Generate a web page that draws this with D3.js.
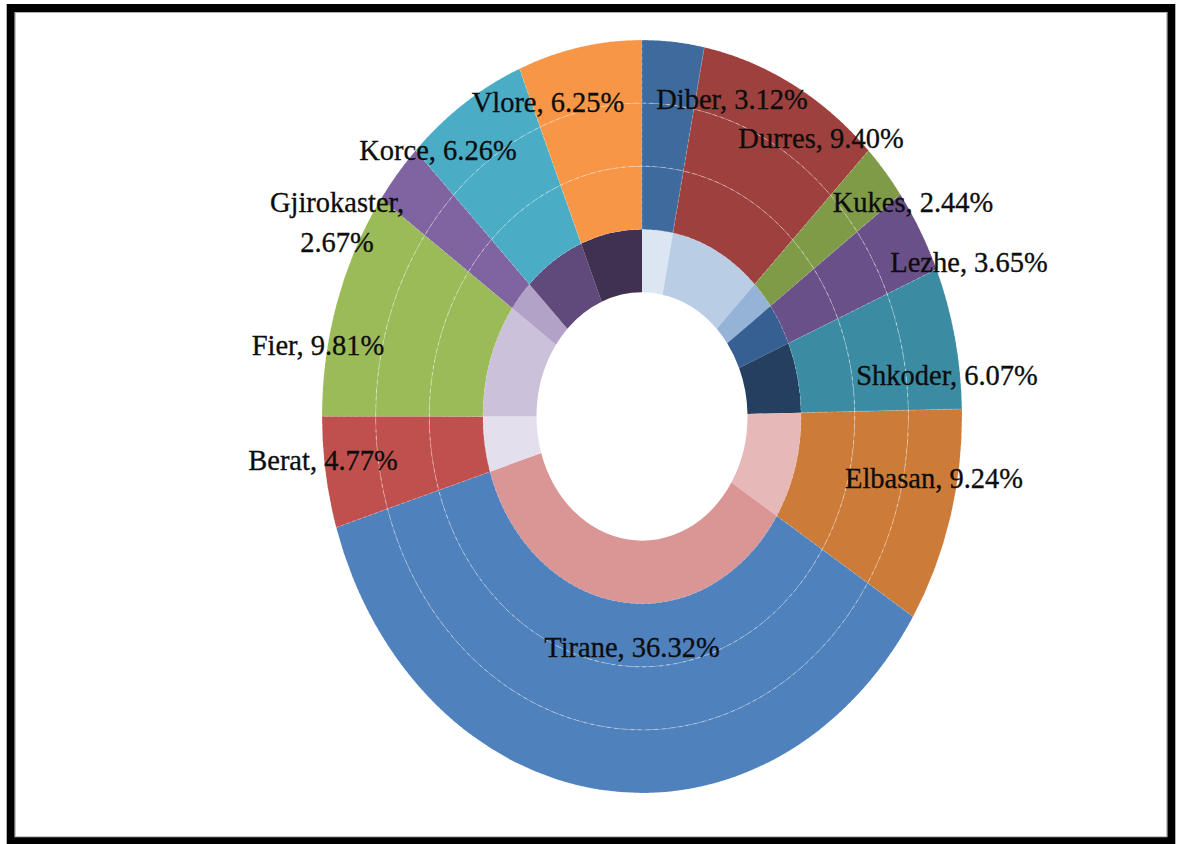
<!DOCTYPE html>
<html>
<head>
<meta charset="utf-8">
<script src="https://cdn.jsdelivr.net/npm/d3@7"></script>
<style>
  html, body { margin: 0; padding: 0; background: #fff; }
  svg { display: block; }
  .lbl { font-family: "Liberation Serif", "Times New Roman", serif; font-size: 28.5px;
         fill: #0d0d0d; stroke: #0d0d0d; stroke-width: 0.3px; }
</style>
</head>
<body>
<svg id="chart" width="1177" height="844"></svg>
<script>
// Share of each region, clockwise from 12 o'clock
const regions = ["Diber", "Durres", "Kukes", "Lezhe", "Shkoder", "Elbasan",
                 "Tirane", "Berat", "Fier", "Gjirokaster", "Korce", "Vlore"];
const shares  = [3.12, 9.40, 2.44, 3.65, 6.07, 9.24, 36.32, 4.77, 9.81, 2.67, 6.26, 6.25];

// Fill of the three outer rings (one colour per region)
const outerColors = ["#3f6a9e", "#9e413e", "#7f9b48", "#6a5088", "#3b8ca3", "#cc7b38",
                     "#4f81bd", "#c0504d", "#9bbb59", "#8064a2", "#4bacc6", "#f79646"];
// Fill of the innermost ring (tints / shades grouped by hue)
const innerColors = ["#dce6f2", "#b9cde5", "#95b3d7", "#376092", "#243f60", "#e6b9b8",
                     "#d99694", "#e4dfec", "#ccc1da", "#b3a2c7", "#604a7b", "#403151"];

// Label text lines and where each one sits (centre x, first baseline y)
const labelLines = regions.map((r, i) =>
  r === "Gjirokaster" ? [r + ",", d3.format(".2f")(shares[i]) + "%"]
                      : [r + ", " + d3.format(".2f")(shares[i]) + "%"]);
const labelAt = [[732, 109], [821, 148], [913, 212], [969, 272], [947, 385], [934, 488],
                 [632, 657], [323, 470], [318, 355], [337, 212], [438, 160], [548, 112]];

const cx = 642, cy = 416.5;
const stretchY = 1.1766;          // rings are drawn as ellipses
const holeR = 105.5, ringW = 53.62;

const svg = d3.select("#chart");

// page frame
svg.append("rect")
  .attr("x", 10.7).attr("y", 8).attr("width", 1160.6).attr("height", 833)
  .attr("fill", "none").attr("stroke", "#000").attr("stroke-width", 8);
svg.append("rect")
  .attr("x", 15.2).attr("y", 12.5).attr("width", 1151.6).attr("height", 824.3)
  .attr("fill", "none").attr("stroke", "#b0b0b0").attr("stroke-width", 1);

const g = svg.append("g")
  .attr("transform", `translate(${cx},${cy}) scale(1,${stretchY})`);

const pie = d3.pie().sort(null).value(d => d)
  .startAngle(0).endAngle(2 * Math.PI);
const arcsData = pie(shares);

// four concentric series: index 0 is innermost
[0, 1, 2, 3].forEach(k => {
  const arc = d3.arc()
    .innerRadius(holeR + k * ringW)
    .outerRadius(holeR + (k + 1) * ringW);
  const colors = k === 0 ? innerColors : outerColors;
  g.append("g").selectAll("path")
    .data(arcsData)
    .join("path")
      .attr("d", arc)
      .attr("fill", (d, i) => colors[i])
      .attr("stroke", k === 0 ? "none" : "#ffffff")
      .attr("stroke-opacity", 0.25)
      .attr("stroke-width", 0.8)
      .attr("stroke-dasharray", "3,3")
      .attr("vector-effect", "non-scaling-stroke");
});

// faint dashed separators between the outer series
[2, 3].forEach(k => {
  g.append("circle")
    .attr("r", holeR + k * ringW)
    .attr("fill", "none")
    .attr("stroke", "#ffffff")
    .attr("stroke-opacity", 0.35)
    .attr("stroke-width", 1)
    .attr("stroke-dasharray", "4,4")
    .attr("vector-effect", "non-scaling-stroke");
});

// data labels
const labels = svg.append("g");
labelLines.forEach((lines, i) => {
  const t = labels.append("text")
    .attr("class", "lbl")
    .attr("text-anchor", "middle")
    .attr("transform", `translate(${labelAt[i][0]},${labelAt[i][1]}) scale(1,1.06)`);
  lines.forEach((ln, j) => {
    t.append("tspan")
      .attr("x", 0)
      .attr("dy", j === 0 ? 0 : 37.7)
      .text(ln);
  });
});
</script>
</body>
</html>
